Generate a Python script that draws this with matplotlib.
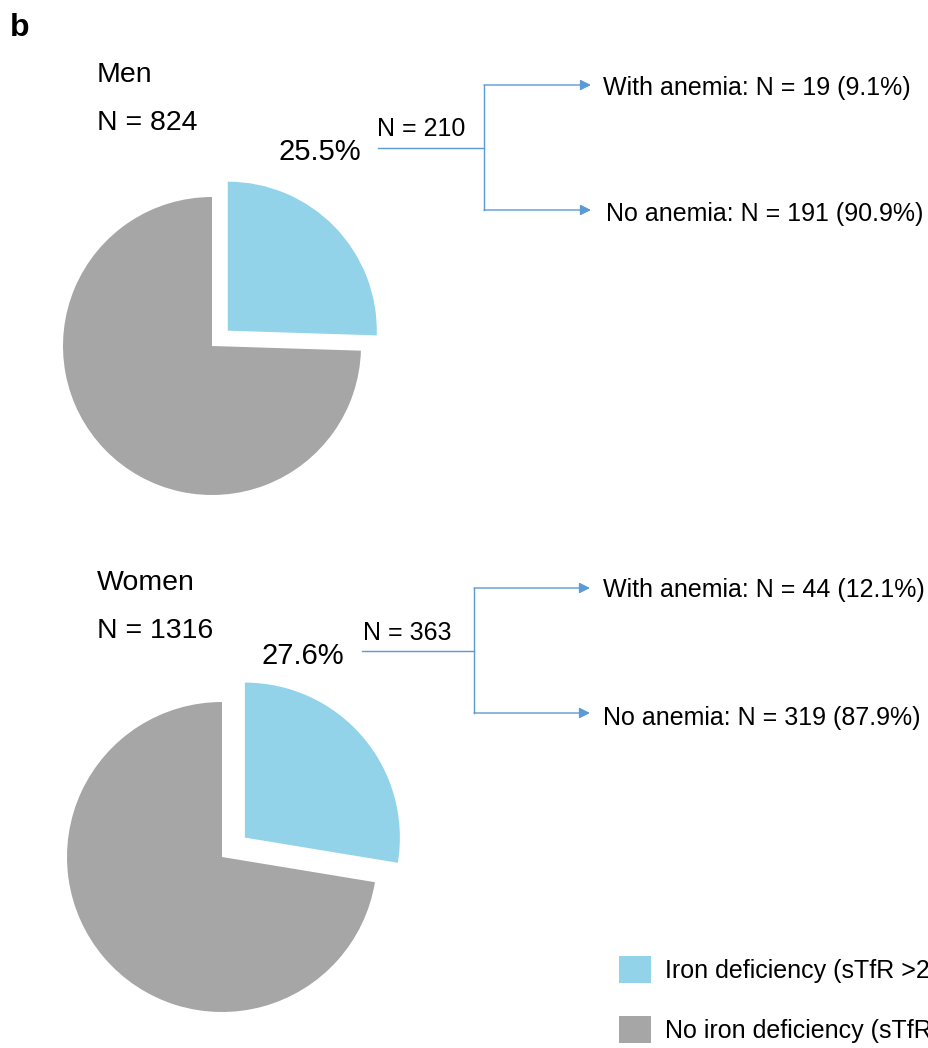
import matplotlib.pyplot as plt

plt.rcParams['font.family'] = ['Liberation Sans', 'DejaVu Sans']

# donnees
groups = ['Men', 'Women']
n_total = [824, 1316]
pct_iron_def = [25.5, 27.6]
n_iron_def = [210, 363]
n_with_anemia = [19, 44]
pct_with_anemia = [9.1, 12.1]
n_no_anemia = [191, 319]
pct_no_anemia = [90.9, 87.9]
legend_labels = ['Iron deficiency (sTfR >28.1 nmol/L)',
                 'No iron deficiency (sTfR \u226428.1 nmol/L)']

blue = '#92D3E9'
gray = '#A6A6A6'
line_col = '#5B9BD5'

W, H = 929, 1048
fig = plt.figure(figsize=(W / 100, H / 100), dpi=100)
ax = fig.add_axes([0, 0, 1, 1])

def fy(y):
    # pixel (depuis le haut) -> coordonnee y
    return H - y

def ft(y):
    # petit decalage pour le texte (centre du bbox plus haut que les glyphes)
    return H - y - 2.5

# mise en page de chaque bloc (pixels)
layout = [
    dict(center=(212, 346), r=149, shift=22, title_y=73, ntot_y=121,
         pct_xy=(320, 150), n_xy=(421, 127), line_y=148, x0=378, xv=484,
         y_up=85, y_dn=210, tip=591, tx=(603, 606)),
    dict(center=(222, 857), r=155, shift=30, title_y=580, ntot_y=629,
         pct_xy=(303, 654), n_xy=(407, 630), line_y=651, x0=362, xv=474,
         y_up=588, y_dn=713, tip=590, tx=(603, 603)),
]

handles = None
for i, L in enumerate(layout):
    p = pct_iron_def[i]
    cx, cy = L['center']
    # explode est en unites de donnees (pixels ici)
    wedges, _ = ax.pie([p, 100 - p], explode=[L['shift'], 0],
                       center=(cx, fy(cy)), radius=L['r'], startangle=90,
                       counterclock=False, colors=[blue, gray],
                       wedgeprops=dict(linewidth=0))
    if handles is None:
        handles = wedges

    ax.text(97, ft(L['title_y']), groups[i], fontsize=20.5, va='center', ha='left')
    ax.text(97, ft(L['ntot_y']), f'N = {n_total[i]}', fontsize=20.5, va='center', ha='left')
    ax.text(L['pct_xy'][0], ft(L['pct_xy'][1]), f'{p}%', fontsize=21, va='center', ha='center')
    ax.text(L['n_xy'][0], ft(L['n_xy'][1]), f'N = {n_iron_def[i]}', fontsize=18,
            va='center', ha='center')

    # arbre
    ax.plot([L['x0'], L['xv']], [fy(L['line_y'])] * 2, color=line_col, lw=1)
    ax.plot([L['xv'], L['xv']], [fy(L['y_up']), fy(L['y_dn'])], color=line_col, lw=1)
    for yy in (L['y_up'], L['y_dn']):
        ax.annotate('', xy=(L['tip'], fy(yy)), xytext=(L['xv'], fy(yy)),
                    arrowprops=dict(arrowstyle='-|>', color=line_col, lw=1,
                                    mutation_scale=16, shrinkA=0, shrinkB=0))
    ax.text(L['tx'][0], ft(L['y_up']),
            f'With anemia: N = {n_with_anemia[i]} ({pct_with_anemia[i]}%)',
            fontsize=18, va='center', ha='left')
    ax.text(L['tx'][1], ft(L['y_dn'] + 2),
            f'No anemia: N = {n_no_anemia[i]} ({pct_no_anemia[i]}%)',
            fontsize=18, va='center', ha='left')

ax.text(10, ft(25), 'b', fontsize=23, fontweight='bold', va='center', ha='left')

leg = ax.legend(handles, legend_labels, loc='upper left',
                bbox_to_anchor=(619 / W, 1 - 956 / H), bbox_transform=fig.transFigure,
                frameon=False, fontsize=18, borderpad=0, borderaxespad=0,
                handlelength=1.28, handleheight=1.3, handletextpad=0.56,
                labelspacing=1.3)

ax.set_xlim(0, W)
ax.set_ylim(0, H)
ax.set_aspect('auto')
ax.axis('off')

fig.savefig('out.png', dpi=100)
